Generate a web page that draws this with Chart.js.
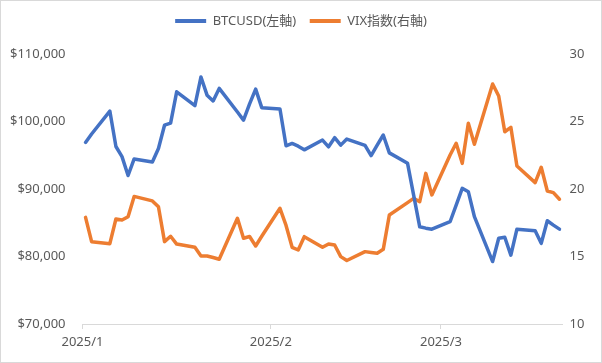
<!DOCTYPE html>
<html>
<head>
<meta charset="utf-8">
<script src="https://cdn.jsdelivr.net/npm/chart.js@4"></script>
<style>
  html, body { margin: 0; padding: 0; background: #fff; }
  #wrap { position: relative; width: 602px; height: 363px; }
  #frame { position: absolute; left: 0; top: 0; width: 602px; height: 363px; box-sizing: border-box; border: 1px solid #d9d9d9; pointer-events: none; }
</style>
</head>
<body>
<div id="wrap">
  <canvas id="grafica" width="602" height="363"></canvas>
  <div id="frame"></div>
</div>
<script>
// fechas de cotización
const fechas = [
  '2025-01-02', '2025-01-03', '2025-01-06', '2025-01-07', '2025-01-08', '2025-01-09', '2025-01-10',
  '2025-01-13', '2025-01-14', '2025-01-15', '2025-01-16', '2025-01-17',
  '2025-01-20', '2025-01-21', '2025-01-22', '2025-01-23', '2025-01-24',
  '2025-01-27', '2025-01-28', '2025-01-29', '2025-01-30', '2025-01-31',
  '2025-02-03', '2025-02-04', '2025-02-05', '2025-02-06', '2025-02-07',
  '2025-02-10', '2025-02-11', '2025-02-12', '2025-02-13', '2025-02-14',
  '2025-02-17', '2025-02-18', '2025-02-19', '2025-02-20', '2025-02-21',
  '2025-02-24', '2025-02-25', '2025-02-26', '2025-02-27', '2025-02-28',
  '2025-03-03', '2025-03-04', '2025-03-05', '2025-03-06', '2025-03-07',
  '2025-03-10', '2025-03-11', '2025-03-12', '2025-03-13', '2025-03-14',
  '2025-03-17', '2025-03-18', '2025-03-19', '2025-03-20', '2025-03-21'
];

const btcusd = [
  96900, 98150, 101550, 96300, 94800, 92000, 94450,
  94000, 96000, 99450, 99750, 104400,
  102350, 106600, 103900, 103050, 104900,
  101400, 100200, 102600, 104800, 102050,
  101850, 96400, 96750, 96350, 95800,
  97250, 96250, 97600, 96500, 97400,
  96450, 94950, 96500, 98000, 95350,
  93800, 89100, 84400, 84200, 84050,
  85150, 87600, 90100, 89600, 85900,
  79250, 82700, 82850, 80200, 84050,
  83800, 81950, 85300, 84650, 84050
];

const vix = [
  17.90, 16.10, 15.95, 17.78, 17.70, 17.95, 19.45,
  19.12, 18.68, 16.10, 16.50, 15.92,
  15.68, 15.04, 15.04, 14.93, 14.80,
  17.83, 16.35, 16.48, 15.78, 16.50,
  18.57, 17.30, 15.68, 15.48, 16.47,
  15.68, 15.93, 15.85, 14.99, 14.70,
  15.36, 15.30, 15.24, 15.53, 18.07,
  18.99, 19.31, 19.06, 21.16, 19.56,
  22.52, 23.39, 21.90, 24.87, 23.31,
  27.78, 26.89, 24.24, 24.57, 21.70,
  20.47, 21.61, 19.85, 19.73, 19.24
];

const etiquetasMes = ['2025/1', '2025/2', '2025/3'];
const fechasMes = ['2025-01-02', '2025-02-02', '2025-03-02'];
const fechaFin = '2025-03-22';

const nombres = ['BTCUSD(左軸)', 'VIX指数(右軸)'];

// días desde el inicio del eje (los puntos van al centro de cada día)
const inicio = Date.parse(fechasMes[0]);
const dia = f => (Date.parse(f) - inicio) / 86400000;

const posMes = fechasMes.map(dia);
const gris = '#595959';
const fuente = { family: "'Noto Sans', 'Noto Sans CJK JP', sans-serif", size: 13 };

const canvas = document.getElementById('grafica');

new Chart(canvas, {
  type: 'line',
  data: {
    datasets: [
      {
        label: nombres[0],
        data: fechas.map((f, i) => ({ x: dia(f) + 0.5, y: btcusd[i] })),
        borderColor: '#4472C4',
        backgroundColor: '#4472C4',
        borderWidth: 3.5,
        pointRadius: 0,
        borderJoinStyle: 'round',
        borderCapStyle: 'round',
        yAxisID: 'y',
      },
      {
        label: nombres[1],
        data: fechas.map((f, i) => ({ x: dia(f) + 0.5, y: vix[i] })),
        borderColor: '#ED7D31',
        backgroundColor: '#ED7D31',
        borderWidth: 3.5,
        pointRadius: 0,
        borderJoinStyle: 'round',
        borderCapStyle: 'round',
        yAxisID: 'y1',
      },
    ],
  },
  options: {
    responsive: false,
    animation: false,
    layout: { padding: { top: 1, left: 0, right: 0, bottom: 0 } },
    plugins: {
      legend: {
        position: 'top',
        labels: {
          font: fuente,
          color: gris,
          boxWidth: 31,
          boxHeight: 4,
          padding: 13.5,
          generateLabels(chart) {
            const items = Chart.defaults.plugins.legend.labels.generateLabels(chart);
            items.forEach(it => { it.lineWidth = 0; it.fillStyle = it.strokeStyle; });
            return items;
          },
        },
      },
      tooltip: { enabled: false },
    },
    scales: {
      x: {
        type: 'linear',
        min: 0,
        max: dia(fechaFin),
        afterBuildTicks(scale) {
          scale.ticks = posMes.map(v => ({ value: v }));
        },
        afterFit(scale) { scale.height = 39; },
        ticks: {
          font: fuente,
          color: gris,
          padding: 5,
          maxRotation: 0,
          autoSkip: false,
          callback: (v) => etiquetasMes[posMes.indexOf(v)],
        },
        grid: { drawOnChartArea: false, drawTicks: true, tickLength: 5, color: '#d9d9d9' },
        border: { display: true, color: '#d9d9d9', width: 1 },
      },
      y: {
        position: 'left',
        min: 70000,
        max: 110000,
        afterFit(scale) { scale.width = 82.5; },
        ticks: {
          stepSize: 10000,
          font: fuente,
          color: gris,
          padding: 17,
          callback: v => '$' + v.toLocaleString('en-US'),
        },
        grid: { display: false, drawTicks: false },
        border: { display: false },
      },
      y1: {
        position: 'right',
        min: 10,
        max: 30,
        afterFit(scale) { scale.width = 39.5; },
        ticks: { stepSize: 5, font: fuente, color: gris, padding: 7 },
        grid: { display: false, drawTicks: false },
        border: { display: false },
      },
    },
  },
  plugins: [{
    id: 'espacioLeyenda',
    beforeInit(chart) {
      const fitOriginal = chart.legend.fit;
      chart.legend.fit = function () {
        fitOriginal.bind(chart.legend)();
        this.height += 16.5;
      };
    },
  }],
});
</script>
</body>
</html>
